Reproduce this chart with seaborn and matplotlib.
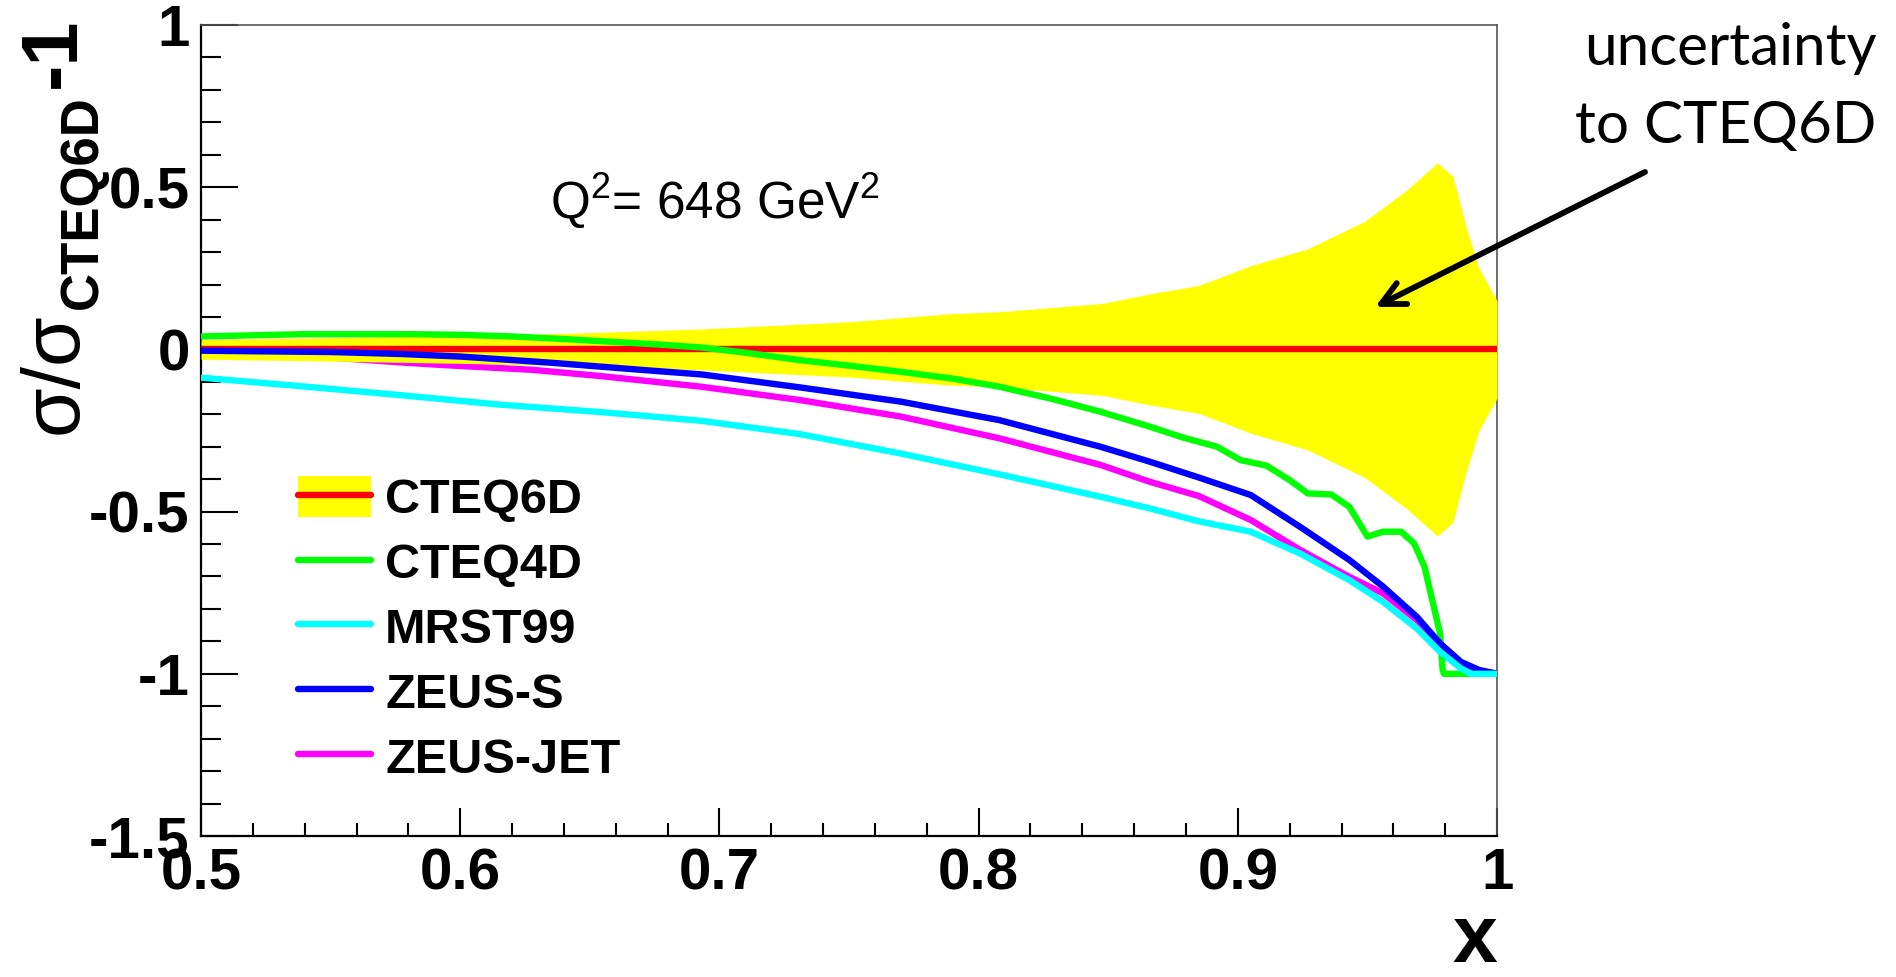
import matplotlib
matplotlib.use("Agg")
import matplotlib.pyplot as plt
import seaborn as sns
import numpy as np
from matplotlib.lines import Line2D
from matplotlib.patches import Patch
from matplotlib.legend_handler import HandlerTuple
from matplotlib.ticker import MultipleLocator

# ratio sigma/sigma_CTEQ6D - 1
x_cteq6d = [0.5, 1.0]
y_cteq6d = [0.0, 0.0]

# CTEQ6D uncertainty band (half width, symmetric about 0)
band_x = [0.50, 0.55, 0.60, 0.643, 0.693, 0.75, 0.789, 0.808, 0.848, 0.866, 0.885,
          0.905, 0.927, 0.949, 0.965, 0.977, 0.983, 0.988, 0.993, 1.0]
band_hw = [0.030, 0.036, 0.043, 0.050, 0.063, 0.085, 0.110, 0.116, 0.142, 0.171, 0.197,
           0.258, 0.310, 0.395, 0.490, 0.575, 0.533, 0.380, 0.250, 0.150]

x_cteq4d = [0.500, 0.540, 0.580, 0.600, 0.620, 0.640, 0.655, 0.675, 0.693, 0.710, 0.731,
            0.750, 0.770, 0.790, 0.808, 0.828, 0.847, 0.866, 0.879, 0.892, 0.901, 0.911,
            0.920, 0.927, 0.936, 0.943, 0.950, 0.956, 0.963, 0.968, 0.972, 0.975, 0.978,
            0.979, 0.9795, 0.990]
y_cteq4d = [0.040, 0.047, 0.047, 0.045, 0.040, 0.032, 0.025, 0.016, 0.006, -0.010, -0.033,
            -0.050, -0.069, -0.090, -0.115, -0.152, -0.192, -0.238, -0.272, -0.300, -0.341, -0.358,
            -0.403, -0.444, -0.447, -0.485, -0.577, -0.562, -0.562, -0.598, -0.670, -0.773, -0.875,
            -0.988, -1.0, -1.0]

x_mrst99 = [0.500, 0.538, 0.577, 0.615, 0.654, 0.693, 0.731, 0.770, 0.808, 0.847, 0.866,
            0.885, 0.905, 0.924, 0.943, 0.956, 0.969, 0.978, 0.986, 0.990, 1.0]
y_mrst99 = [-0.087, -0.113, -0.141, -0.170, -0.193, -0.220, -0.261, -0.321, -0.385, -0.454, -0.490,
            -0.530, -0.562, -0.629, -0.711, -0.778, -0.860, -0.932, -0.983, -1.0, -1.0]

x_zeus_s = [0.500, 0.550, 0.577, 0.600, 0.615, 0.635, 0.654, 0.673, 0.693, 0.731, 0.770,
            0.808, 0.847, 0.866, 0.885, 0.905, 0.924, 0.943, 0.956, 0.969, 0.978, 0.986,
            0.993, 1.0]
y_zeus_s = [-0.004, -0.008, -0.014, -0.022, -0.030, -0.041, -0.053, -0.065, -0.077, -0.117, -0.161,
            -0.218, -0.300, -0.346, -0.395, -0.449, -0.547, -0.649, -0.731, -0.824, -0.906, -0.963,
            -0.988, -1.0]

x_zeus_jet = [0.500, 0.550, 0.577, 0.593, 0.628, 0.654, 0.693, 0.731, 0.770, 0.808, 0.847,
              0.866, 0.885, 0.905, 0.924, 0.943, 0.956, 0.969, 0.978, 0.986, 0.993, 1.0]
y_zeus_jet = [-0.010, -0.025, -0.040, -0.048, -0.063, -0.082, -0.115, -0.156, -0.207, -0.274, -0.356,
              -0.408, -0.452, -0.526, -0.618, -0.701, -0.752, -0.834, -0.910, -0.965, -0.990, -1.0]

x_ticks = [0.5, 0.6, 0.7, 0.8, 0.9, 1.0]
x_tick_labels = ["0.5", "0.6", "0.7", "0.8", "0.9", "1"]
y_ticks = [-1.5, -1.0, -0.5, 0.0, 0.5, 1.0]
y_tick_labels = ["-1.5", "-1", "-0.5", "0", "0.5", "1"]

labels = ["CTEQ6D", "CTEQ4D", "MRST99", "ZEUS-S", "ZEUS-JET"]
colors = {"CTEQ6D": "#ff0000", "CTEQ4D": "#00ff00", "MRST99": "#00ffff",
          "ZEUS-S": "#0000ff", "ZEUS-JET": "#ff00ff"}
band_color = "#ffff00"

sns.set_theme(style="ticks")
plt.rcParams["font.family"] = ["Liberation Sans", "DejaVu Sans"]
plt.rcParams["mathtext.fontset"] = "custom"
plt.rcParams["mathtext.rm"] = "Liberation Sans"
plt.rcParams["mathtext.it"] = "Liberation Sans"
plt.rcParams["mathtext.bf"] = "Liberation Sans:bold"
plt.rcParams["axes.unicode_minus"] = False
for key in ["text.color", "axes.labelcolor", "xtick.color", "ytick.color"]:
    plt.rcParams[key] = "black"

fig = plt.figure(figsize=(18.96, 9.77), dpi=100)
ax = fig.add_axes([0.106, 0.1443, 0.6836, 0.8301])

lw = 4.6
sns.lineplot(x=x_zeus_jet, y=y_zeus_jet, color=colors["ZEUS-JET"], linewidth=lw, ax=ax, zorder=2, estimator=None)
hw = np.array(band_hw)
ax.fill_between(band_x, -hw, hw, color=band_color, linewidth=0, zorder=3)
sns.lineplot(x=x_cteq6d, y=y_cteq6d, color=colors["CTEQ6D"], linewidth=lw, ax=ax, zorder=4, estimator=None)
sns.lineplot(x=x_cteq4d, y=y_cteq4d, color=colors["CTEQ4D"], linewidth=lw, ax=ax, zorder=5, estimator=None)
sns.lineplot(x=x_zeus_s, y=y_zeus_s, color=colors["ZEUS-S"], linewidth=lw, ax=ax, zorder=6, estimator=None)
sns.lineplot(x=x_mrst99, y=y_mrst99, color=colors["MRST99"], linewidth=lw, ax=ax, zorder=7, estimator=None)

ax.set_xlim(0.5, 1.0)
ax.set_ylim(-1.5, 1.0)
ax.set_xticks(x_ticks)
ax.set_xticklabels(x_tick_labels, fontsize=42, fontweight="bold")
ax.set_yticks(y_ticks)
ax.set_yticklabels(y_tick_labels, fontsize=42, fontweight="bold")
ax.xaxis.set_minor_locator(MultipleLocator(0.02))
ax.yaxis.set_minor_locator(MultipleLocator(0.1))
ax.tick_params(axis="both", which="both", direction="in", top=False, right=False,
               width=1.5, color="black")
ax.tick_params(axis="x", which="major", length=20, pad=8)
ax.tick_params(axis="x", which="minor", length=9.5)
ax.tick_params(axis="y", which="major", length=26.5, pad=8)
ax.tick_params(axis="y", which="minor", length=14.5)

for s in ["left", "bottom"]:
    ax.spines[s].set_linewidth(1.6)
    ax.spines[s].set_color("black")
for s in ["top", "right"]:
    ax.spines[s].set_linewidth(1.2)
    ax.spines[s].set_color("#555555")

# y title drawn in three rotated pieces: sigma/sigma, subscript, -1
W, H = 1896, 977
fig.text(77 / W, 1 - 434 / H, "σ/σ", fontsize=58, rotation=90, rotation_mode="anchor",
         ha="left", va="baseline")
fig.text(97 / W, 1 - 309 / H, "CTEQ6D", fontsize=38, fontweight="bold", rotation=90,
         rotation_mode="anchor", ha="left", va="baseline")
fig.text(75 / W, 1 - 88 / H, "-1", fontsize=57, fontweight="bold", rotation=90,
         rotation_mode="anchor", ha="left", va="baseline")

ax.set_xlabel("x", fontsize=58, fontweight="bold")
ax.xaxis.set_label_coords(0.983, -0.083)

ax.text(0.6347, 0.402, r"Q$^{2}$= 648 GeV$^{2}$", fontsize=37, va="baseline", ha="left")

handles = [(Patch(facecolor=band_color, edgecolor="none"),
            Line2D([], [], color=colors["CTEQ6D"], linewidth=lw))]
handles += [Line2D([], [], color=colors[k], linewidth=lw) for k in labels[1:]]
ax.legend(handles, labels, handler_map={tuple: HandlerTuple(ndivide=1, pad=0)},
          loc="upper left", bbox_to_anchor=(298 / W, 1 - 476 / H),
          bbox_transform=fig.transFigure, frameon=False,
          prop={"weight": "bold", "size": 35}, handlelength=1.5, handletextpad=0.29,
          labelspacing=0.36, handleheight=0.93, borderpad=0, borderaxespad=0)

ax.annotate("", xy=(0.953, 0.131), xycoords="data",
            xytext=(1645 / W, 1 - 172 / H), textcoords="figure fraction",
            arrowprops=dict(arrowstyle="->", lw=4.2, color="black", mutation_scale=42,
                            shrinkA=0, shrinkB=0),
            annotation_clip=False)
fig.text(1730 / W, 1 - 65 / H, "uncertainty", fontsize=42, family="Lato",
         ha="center", va="baseline")
fig.text(1726 / W, 1 - 143 / H, "to CTEQ6D", fontsize=42, family="Lato",
         ha="center", va="baseline")

fig.savefig("out.png", dpi=100)
